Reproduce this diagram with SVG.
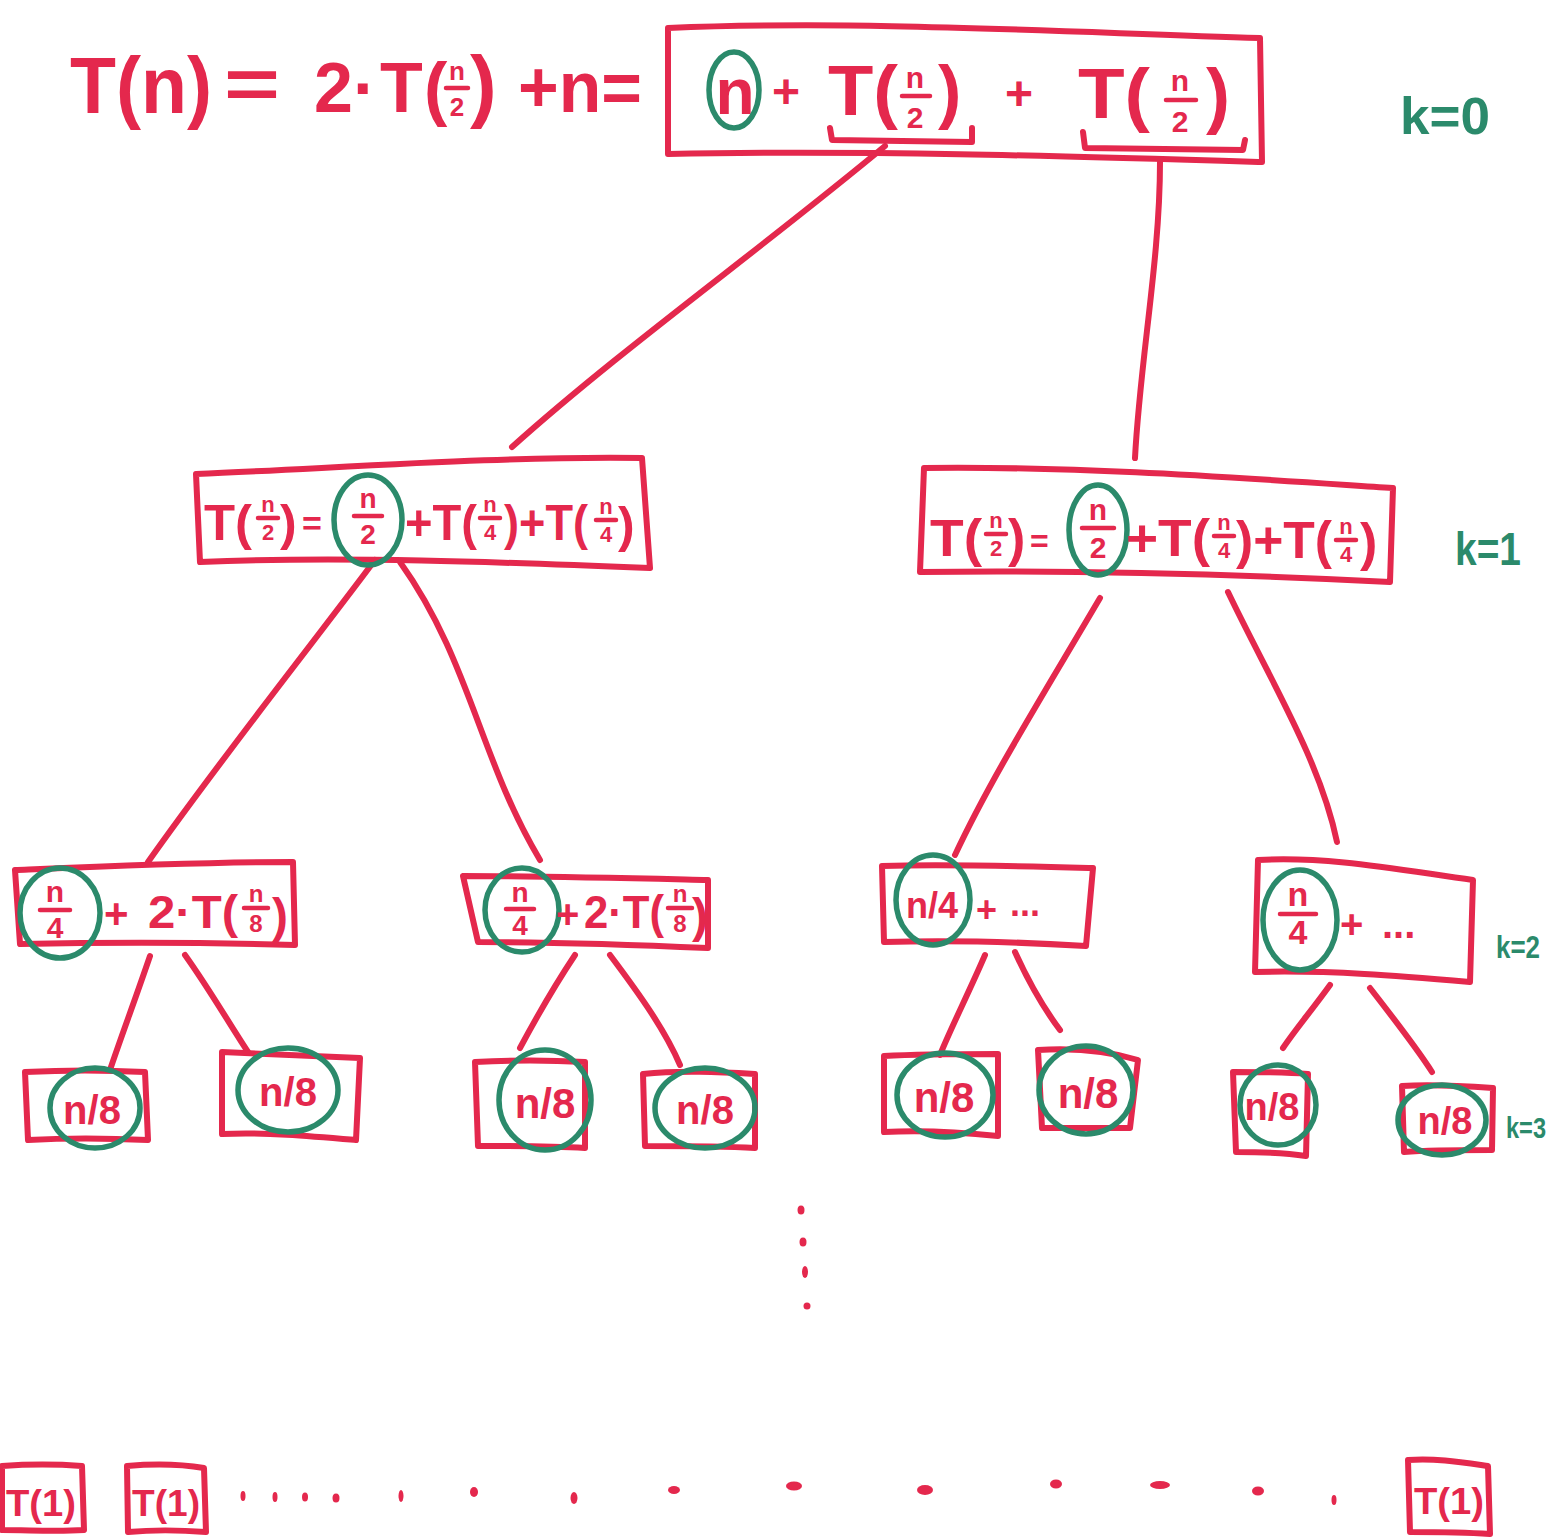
<svg xmlns="http://www.w3.org/2000/svg" width="1556" height="1537" viewBox="0 0 1556 1537">
  <style>
    .ln { fill: none; stroke: #e4284d; stroke-width: 6; stroke-linecap: round; stroke-linejoin: round; }
    .ring { fill: none; stroke: #2b8a6b; stroke-width: 5.5; }
    .bar { stroke: #e4284d; stroke-width: 4.5; stroke-linecap: round; }
    .t { fill: #e4284d; font-family: "Liberation Sans", Arial, sans-serif; font-weight: bold; }
    .k { fill: #2b8a6b; font-family: "Liberation Sans", Arial, sans-serif; font-weight: bold; }
    .fr { text-anchor: middle; }
    .dot { fill: #e4284d; }
  </style>
  <rect width="1556" height="1537" fill="#ffffff"/>

  <!-- equation written above the tree -->
  <g id="equation">
    <text class="t" x="70" y="113" font-size="80" textLength="142" lengthAdjust="spacingAndGlyphs">T(n)</text>
    <text class="t" x="224" y="108" font-size="70" textLength="56" lengthAdjust="spacingAndGlyphs">=</text>
    <text class="t" x="314" y="112" font-size="70">2·</text>
    <text class="t" x="380" y="112" font-size="70">T</text>
    <text class="t" x="424" y="112" font-size="70">(</text>
    <text class="t fr" x="457" y="80" font-size="26">n</text>
    <line class="bar" x1="446" y1="88" x2="468" y2="88"/>
    <text class="t fr" x="457" y="116" font-size="26">2</text>
    <text class="t" x="470" y="112" font-size="80">)</text>
    <text class="t" x="518" y="112" font-size="72" textLength="124" lengthAdjust="spacingAndGlyphs">+n=</text>
  </g>

  <!-- connectors between levels -->
  <g id="connectors" class="ln">
    <path d="M885,146 C760,250 620,350 512,447"/>
    <path d="M1160,162 C1160,260 1140,360 1135,458"/>
    <path d="M375,560 C300,660 220,760 148,862"/>
    <path d="M400,562 C470,660 480,760 540,860"/>
    <path d="M1100,598 C1040,700 990,780 955,855"/>
    <path d="M1228,592 C1270,680 1320,760 1337,842"/>
    <path d="M150,956 C135,1000 120,1040 110,1070"/>
    <path d="M185,955 C210,990 230,1025 248,1052"/>
    <path d="M575,955 C555,985 535,1020 520,1048"/>
    <path d="M610,955 C640,995 665,1030 680,1065"/>
    <path d="M985,955 C970,990 950,1030 940,1055"/>
    <path d="M1015,952 C1030,985 1045,1010 1060,1030"/>
    <path d="M1330,985 C1312,1010 1295,1030 1283,1048"/>
    <path d="M1370,988 C1395,1020 1418,1050 1432,1072"/>
  </g>

  <!-- k = 0 : root -->
  <g id="root">
    <path class="ln" d="M668,28 C860,20 1060,32 1260,38 L1262,162 C1060,156 860,150 668,154 Z"/>
    <text class="t fr" x="735" y="114" font-size="64">n</text>
    <ellipse class="ring" cx="734" cy="90" rx="25" ry="38"/>
    <text class="t" x="772" y="108" font-size="48">+</text>
    <text class="t" x="828" y="115" font-size="70" textLength="70" lengthAdjust="spacingAndGlyphs">T(</text>
    <text class="t fr" x="915" y="88" font-size="30">n</text>
    <line class="bar" x1="902" y1="96" x2="930" y2="96"/>
    <text class="t fr" x="915" y="128" font-size="30">2</text>
    <text class="t" x="938" y="115" font-size="70">)</text>
    <path class="ln" d="M830,128 L832,140 L972,142 L972,128"/>
    <text class="t" x="1005" y="110" font-size="48">+</text>
    <text class="t" x="1078" y="118" font-size="70" textLength="72" lengthAdjust="spacingAndGlyphs">T(</text>
    <text class="t fr" x="1180" y="91" font-size="30">n</text>
    <line class="bar" x1="1166" y1="100" x2="1196" y2="100"/>
    <text class="t fr" x="1180" y="132" font-size="30">2</text>
    <text class="t" x="1206" y="120" font-size="72">)</text>
    <path class="ln" d="M1083,132 L1085,148 L1243,150 L1245,140"/>
  </g>
  <text class="k" x="1400" y="134" font-size="52" textLength="90" lengthAdjust="spacingAndGlyphs">k=0</text>

  <!-- k = 1 : left -->
  <g id="k1-left">
    <path class="ln" d="M196,474 C340,468 500,456 642,458 L650,568 C500,562 340,556 200,562 Z"/>
    <text class="t" x="204" y="540" font-size="50" textLength="48" lengthAdjust="spacingAndGlyphs">T(</text>
    <text class="t fr" x="268" y="512" font-size="22">n</text>
    <line class="bar" x1="258" y1="518" x2="278" y2="518"/>
    <text class="t fr" x="268" y="540" font-size="22">2</text>
    <text class="t" x="280" y="540" font-size="50">)</text>
    <text class="t" x="302" y="535" font-size="34">=</text>
    <text class="t fr" x="368" y="508" font-size="28">n</text>
    <line class="bar" x1="354" y1="516" x2="382" y2="516"/>
    <text class="t fr" x="368" y="544" font-size="28">2</text>
    <ellipse class="ring" cx="368" cy="520" rx="34" ry="45"/>
    <text class="t" x="405" y="540" font-size="50" textLength="72" lengthAdjust="spacingAndGlyphs">+T(</text>
    <text class="t fr" x="490" y="512" font-size="22">n</text>
    <line class="bar" x1="480" y1="518" x2="500" y2="518"/>
    <text class="t fr" x="490" y="540" font-size="22">4</text>
    <text class="t" x="504" y="540" font-size="50" textLength="84" lengthAdjust="spacingAndGlyphs">)+T(</text>
    <text class="t fr" x="606" y="514" font-size="22">n</text>
    <line class="bar" x1="596" y1="520" x2="616" y2="520"/>
    <text class="t fr" x="606" y="542" font-size="22">4</text>
    <text class="t" x="618" y="542" font-size="50">)</text>
  </g>

  <!-- k = 1 : right -->
  <g id="k1-right">
    <path class="ln" d="M924,468 C1080,466 1240,478 1393,488 L1390,582 C1230,574 1080,570 920,572 Z"/>
    <text class="t" x="930" y="556" font-size="52" textLength="52" lengthAdjust="spacingAndGlyphs">T(</text>
    <text class="t fr" x="996" y="528" font-size="22">n</text>
    <line class="bar" x1="986" y1="534" x2="1006" y2="534"/>
    <text class="t fr" x="996" y="556" font-size="22">2</text>
    <text class="t" x="1008" y="556" font-size="52">)</text>
    <text class="t" x="1030" y="552" font-size="32">=</text>
    <text class="t fr" x="1098" y="520" font-size="30">n</text>
    <line class="bar" x1="1082" y1="528" x2="1114" y2="528"/>
    <text class="t fr" x="1098" y="558" font-size="30">2</text>
    <ellipse class="ring" cx="1098" cy="530" rx="29" ry="45"/>
    <text class="t" x="1126" y="556" font-size="52" textLength="84" lengthAdjust="spacingAndGlyphs">+T(</text>
    <text class="t fr" x="1224" y="530" font-size="22">n</text>
    <line class="bar" x1="1214" y1="536" x2="1234" y2="536"/>
    <text class="t fr" x="1224" y="558" font-size="22">4</text>
    <text class="t" x="1236" y="558" font-size="52" textLength="96" lengthAdjust="spacingAndGlyphs">)+T(</text>
    <text class="t fr" x="1346" y="534" font-size="22">n</text>
    <line class="bar" x1="1336" y1="540" x2="1356" y2="540"/>
    <text class="t fr" x="1346" y="562" font-size="22">4</text>
    <text class="t" x="1360" y="560" font-size="52">)</text>
  </g>
  <text class="k" x="1455" y="565" font-size="46" textLength="66" lengthAdjust="spacingAndGlyphs">k=1</text>

  <!-- k = 2 -->
  <g id="k2-a">
    <path class="ln" d="M15,870 C110,866 200,862 293,862 L295,945 C200,942 110,942 20,944 Z"/>
    <text class="t fr" x="55" y="902" font-size="30">n</text>
    <line class="bar" x1="40" y1="910" x2="70" y2="910"/>
    <text class="t fr" x="55" y="938" font-size="30">4</text>
    <ellipse class="ring" cx="60" cy="913" rx="40" ry="45"/>
    <text class="t" x="104" y="928" font-size="42">+</text>
    <text class="t" x="148" y="928" font-size="46" textLength="90" lengthAdjust="spacingAndGlyphs">2·T(</text>
    <text class="t fr" x="256" y="902" font-size="24">n</text>
    <line class="bar" x1="244" y1="908" x2="268" y2="908"/>
    <text class="t fr" x="256" y="932" font-size="24">8</text>
    <text class="t" x="272" y="932" font-size="48">)</text>
  </g>
  <g id="k2-b">
    <path class="ln" d="M463,876 C540,876 620,878 708,880 L708,948 C620,944 540,942 478,942 Z"/>
    <text class="t fr" x="520" y="902" font-size="28">n</text>
    <line class="bar" x1="506" y1="909" x2="534" y2="909"/>
    <text class="t fr" x="520" y="935" font-size="28">4</text>
    <ellipse class="ring" cx="522" cy="910" rx="37" ry="42"/>
    <text class="t" x="556" y="928" font-size="40">+</text>
    <text class="t" x="584" y="928" font-size="46" textLength="80" lengthAdjust="spacingAndGlyphs">2·T(</text>
    <text class="t fr" x="680" y="902" font-size="24">n</text>
    <line class="bar" x1="668" y1="908" x2="692" y2="908"/>
    <text class="t fr" x="680" y="932" font-size="24">8</text>
    <text class="t" x="692" y="932" font-size="48">)</text>
  </g>
  <g id="k2-c">
    <path class="ln" d="M882,866 C950,864 1020,866 1093,868 L1086,946 C1020,942 950,940 884,942 Z"/>
    <text class="t fr" x="932" y="918" font-size="36">n/4</text>
    <ellipse class="ring" cx="933" cy="900" rx="37" ry="45"/>
    <text class="t" x="976" y="922" font-size="36">+</text>
    <text class="t" x="1010" y="916" font-size="36">...</text>
  </g>
  <g id="k2-d">
    <path class="ln" d="M1258,860 C1330,856 1400,870 1473,880 L1470,982 C1400,976 1330,970 1255,972 Z"/>
    <text class="t fr" x="1298" y="906" font-size="34">n</text>
    <line class="bar" x1="1280" y1="914" x2="1316" y2="914"/>
    <text class="t fr" x="1298" y="944" font-size="34">4</text>
    <ellipse class="ring" cx="1300" cy="920" rx="37" ry="50"/>
    <text class="t" x="1340" y="938" font-size="40">+</text>
    <text class="t" x="1382" y="938" font-size="40">...</text>
  </g>
  <text class="k" x="1496" y="958" font-size="32" textLength="44" lengthAdjust="spacingAndGlyphs">k=2</text>

  <!-- k = 3 -->
  <g id="k3-1">
    <path class="ln" d="M25,1072 C65,1070 105,1070 145,1072 L148,1140 C105,1138 65,1138 28,1140 Z"/>
    <text class="t fr" x="92" y="1124" font-size="40">n/8</text>
    <ellipse class="ring" cx="95" cy="1108" rx="45" ry="40"/>
  </g>
  <g id="k3-2">
    <path class="ln" d="M222,1052 C270,1054 315,1056 360,1058 L356,1140 C310,1136 265,1132 222,1134 Z"/>
    <text class="t fr" x="288" y="1106" font-size="40">n/8</text>
    <ellipse class="ring" cx="288" cy="1090" rx="50" ry="42"/>
  </g>
  <g id="k3-3">
    <path class="ln" d="M475,1062 C510,1060 550,1060 585,1062 L585,1148 C550,1146 510,1146 478,1146 Z"/>
    <text class="t fr" x="545" y="1118" font-size="42">n/8</text>
    <ellipse class="ring" cx="545" cy="1100" rx="46" ry="50"/>
  </g>
  <g id="k3-4">
    <path class="ln" d="M643,1074 C680,1070 720,1072 755,1074 L755,1148 C720,1146 680,1146 645,1146 Z"/>
    <text class="t fr" x="705" y="1124" font-size="40">n/8</text>
    <ellipse class="ring" cx="705" cy="1108" rx="50" ry="40"/>
  </g>
  <g id="k3-5">
    <path class="ln" d="M884,1056 C920,1054 960,1054 998,1054 L998,1136 C960,1132 920,1130 884,1132 Z"/>
    <text class="t fr" x="944" y="1112" font-size="42">n/8</text>
    <ellipse class="ring" cx="945" cy="1095" rx="48" ry="42"/>
  </g>
  <g id="k3-6">
    <path class="ln" d="M1038,1050 C1070,1048 1105,1050 1138,1060 L1130,1128 C1100,1128 1070,1128 1042,1128 Z"/>
    <text class="t fr" x="1088" y="1108" font-size="42">n/8</text>
    <ellipse class="ring" cx="1086" cy="1090" rx="47" ry="44"/>
  </g>
  <g id="k3-7">
    <path class="ln" d="M1233,1072 C1258,1072 1285,1072 1308,1074 L1306,1156 C1280,1152 1258,1152 1236,1152 Z"/>
    <text class="t fr" x="1272" y="1120" font-size="38">n/8</text>
    <ellipse class="ring" cx="1278" cy="1105" rx="38" ry="40"/>
  </g>
  <g id="k3-8">
    <path class="ln" d="M1402,1086 C1430,1084 1465,1086 1493,1088 L1492,1150 C1465,1150 1430,1150 1404,1152 Z"/>
    <text class="t fr" x="1445" y="1134" font-size="38">n/8</text>
    <ellipse class="ring" cx="1442" cy="1120" rx="44" ry="35"/>
  </g>
  <text class="k" x="1506" y="1138" font-size="30" textLength="40" lengthAdjust="spacingAndGlyphs">k=3</text>

  <!-- vertical ellipsis between k = 3 and the leaves -->
  <g id="vdots" class="dot">
    <ellipse cx="801" cy="1210" rx="3.5" ry="4.5"/>
    <ellipse cx="803" cy="1242" rx="3.5" ry="4.5"/>
    <ellipse cx="805" cy="1272" rx="3" ry="6"/>
    <ellipse cx="807" cy="1306" rx="3.5" ry="3.5"/>
  </g>

  <!-- leaves -->
  <g id="leaf-1">
    <path class="ln" d="M2,1466 C30,1464 55,1464 82,1466 L84,1530 C55,1532 30,1530 2,1530 Z"/>
    <text class="t" x="6" y="1516" font-size="36" textLength="70" lengthAdjust="spacingAndGlyphs">T(1)</text>
  </g>
  <g id="leaf-2">
    <path class="ln" d="M127,1466 C150,1464 180,1464 204,1468 L206,1532 C180,1530 150,1530 128,1532 Z"/>
    <text class="t" x="132" y="1516" font-size="36" textLength="68" lengthAdjust="spacingAndGlyphs">T(1)</text>
  </g>
  <g id="leaf-n">
    <path class="ln" d="M1408,1460 C1435,1458 1460,1462 1488,1466 L1490,1534 C1460,1532 1435,1532 1410,1532 Z"/>
    <text class="t" x="1414" y="1514" font-size="36" textLength="70" lengthAdjust="spacingAndGlyphs">T(1)</text>
  </g>

  <!-- horizontal ellipsis between leaves -->
  <g id="hdots" class="dot">
    <ellipse cx="243" cy="1496" rx="2.5" ry="5"/>
    <ellipse cx="275" cy="1497" rx="2.5" ry="5"/>
    <ellipse cx="305" cy="1497" rx="3" ry="4.5"/>
    <ellipse cx="336" cy="1498" rx="3.5" ry="4.5"/>
    <ellipse cx="401" cy="1496" rx="2.5" ry="6"/>
    <ellipse cx="474" cy="1492" rx="4" ry="5"/>
    <ellipse cx="574" cy="1498" rx="3.5" ry="6"/>
    <ellipse cx="674" cy="1490" rx="6" ry="4"/>
    <ellipse cx="794" cy="1486" rx="8" ry="4.5"/>
    <ellipse cx="925" cy="1490" rx="8" ry="5"/>
    <ellipse cx="1056" cy="1484" rx="6" ry="4.5"/>
    <ellipse cx="1160" cy="1485" rx="10" ry="4"/>
    <ellipse cx="1258" cy="1491" rx="6" ry="4.5"/>
    <ellipse cx="1334" cy="1500" rx="2.5" ry="5"/>
  </g>
</svg>
